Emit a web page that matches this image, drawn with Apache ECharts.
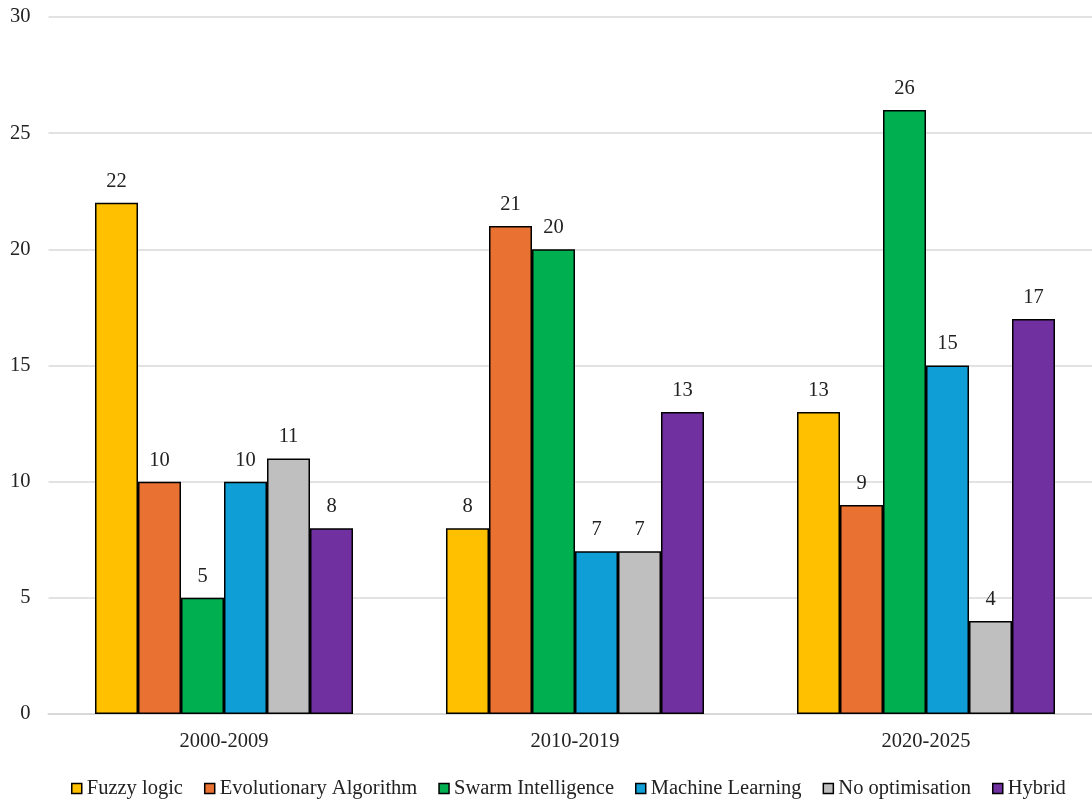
<!DOCTYPE html>
<html><head><meta charset="utf-8">
<script src="https://cdn.jsdelivr.net/npm/echarts@6/dist/echarts.min.js"></script>
<style>html,body{margin:0;padding:0;background:#fff}#c{width:1092px;height:800px}</style>
</head><body><div id="c"></div>
<script>
const categories = ['2000-2009', '2010-2019', '2020-2025'];
const seriesNames = ['Fuzzy logic', 'Evolutionary Algorithm', 'Swarm Intelligence', 'Machine Learning', 'No optimisation', 'Hybrid'];
const fuzzy = [22, 8, 13];
const evolutionary = [10, 21, 9];
const swarm = [5, 20, 26];
const machineLearning = [10, 7, 15];
const noOptimisation = [11, 7, 4];
const hybrid = [8, 13, 17];
const colors = ['#FFC000', '#E97132', '#00B050', '#0F9ED5', '#BFBFBF', '#7030A0'];
const yTicks = {min: 0, max: 30, interval: 5};

const allData = [fuzzy, evolutionary, swarm, machineLearning, noOptimisation, hybrid];
const font = 'Liberation Serif, Times New Roman, serif';
const chart = echarts.init(document.getElementById('c'));
chart.setOption({
  animation: false,
  textStyle: {fontFamily: font},
  grid: {left: 48.5, width: 1053, top: 17, bottom: 86, containLabel: false, outerBoundsMode: 'none'},
  legend: {
    left: 66, top: 773, itemWidth: 10, itemHeight: 10, itemGap: 21,
    icon: 'rect',
    textStyle: {fontFamily: font, fontSize: 20.5, color: '#222'},
    itemStyle: {borderColor: '#000', borderWidth: 1.5},
    data: seriesNames
  },
  xAxis: {
    type: 'category', data: categories,
    axisLine: {lineStyle: {color: '#d9d9d9', width: 2}},
    axisTick: {show: false},
    axisLabel: {fontFamily: font, fontSize: 20.5, color: '#222', margin: 17}
  },
  yAxis: {
    type: 'value', min: yTicks.min, max: yTicks.max, interval: yTicks.interval,
    axisLine: {show: false}, axisTick: {show: false},
    splitLine: {lineStyle: {color: '#d9d9d9', width: 1.5}},
    axisLabel: {fontFamily: font, fontSize: 20.5, color: '#222', margin: 18}
  },
  series: seriesNames.map((n, i) => ({
    name: n, type: 'bar', data: allData[i],
    barWidth: 43, barGap: '0%',
    itemStyle: {color: colors[i], borderColor: '#000', borderWidth: 1.5},
    label: {show: true, position: 'top', distance: 11, fontFamily: font, fontSize: 20.5, color: '#222'}
  }))
});
</script></body></html>
